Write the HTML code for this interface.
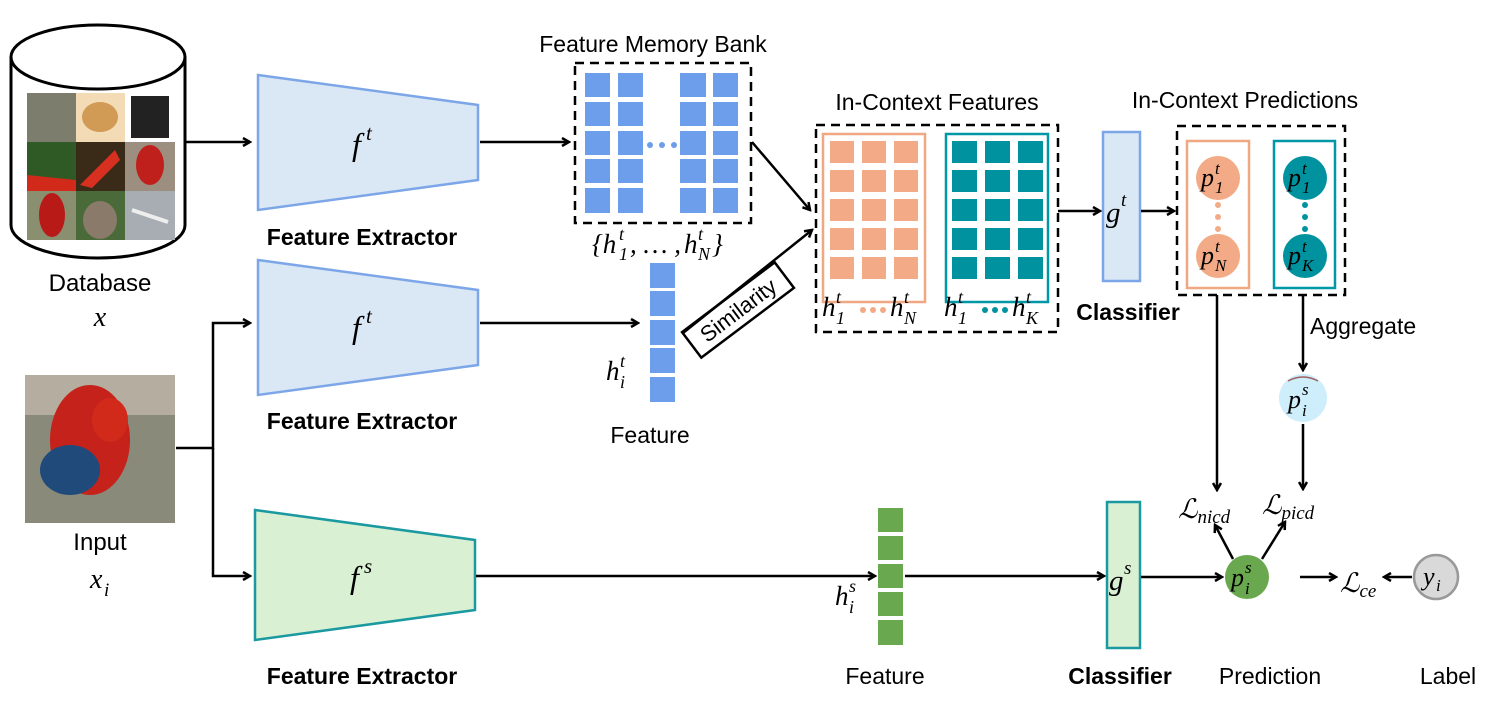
<!DOCTYPE html>
<html><head><meta charset="utf-8"><style>
html,body{margin:0;padding:0;background:#fff}
svg{display:block}
text{font-family:"Liberation Sans",sans-serif;fill:#000}
.m{font-family:"Liberation Serif","DejaVu Serif",serif;font-style:italic}
.b{font-weight:bold}
</style></head><body>
<svg width="1494" height="716" viewBox="0 0 1494 716" xmlns="http://www.w3.org/2000/svg">
<defs>
<marker id="a" markerWidth="10" markerHeight="10" refX="8" refY="5" orient="auto" markerUnits="userSpaceOnUse">
<path d="M1,1 L8,5 L1,9" fill="none" stroke="#000" stroke-width="2.5"/></marker>
</defs>
<g stroke="#000" stroke-width="3" fill="none">
<path d="M11,57 V225 A87,33 0 0 0 185,225 V57"/>
<ellipse cx="98" cy="57" rx="87" ry="32"/>
</g>
<g>
<rect x="27" y="93" width="49" height="49" fill="#7d7d6e"/>
<rect x="76" y="93" width="49" height="49" fill="#f3dcb5"/>
<ellipse cx="100" cy="117" rx="18" ry="15" fill="#d19a55"/>
<rect x="125" y="93" width="50" height="49" fill="#fff"/>
<rect x="131" y="96" width="38" height="42" fill="#222"/>
<rect x="27" y="142" width="49" height="49" fill="#2f5a25"/>
<path d="M27,175 L76,180 L76,191 L27,191Z" fill="#d12a1a"/>
<rect x="76" y="142" width="49" height="49" fill="#3a2a18"/>
<path d="M80,185 L115,150 L120,160 L92,188Z" fill="#d83020"/>
<rect x="125" y="142" width="50" height="49" fill="#9c8f80"/>
<ellipse cx="150" cy="165" rx="14" ry="20" fill="#c0201c"/>
<rect x="27" y="191" width="49" height="49" fill="#8a8f70"/>
<ellipse cx="52" cy="215" rx="13" ry="22" fill="#b81a18"/>
<rect x="76" y="191" width="49" height="49" fill="#4a6a3a"/>
<ellipse cx="100" cy="220" rx="17" ry="19" fill="#8a7a6a"/>
<rect x="125" y="191" width="50" height="49" fill="#a7adb2"/>
<path d="M132,210 L168,222" stroke="#eee" stroke-width="4"/>
</g>
<text x="100" y="291" font-size="24" text-anchor="middle">Database</text>
<text x="100" y="326" font-size="28" text-anchor="middle" class="m">x</text>

<rect x="25" y="375" width="150" height="148" fill="#8a8a7a"/>
<rect x="25" y="375" width="150" height="40" fill="#b5aea0"/>
<ellipse cx="90" cy="440" rx="40" ry="55" fill="#c4221a"/>
<ellipse cx="70" cy="470" rx="30" ry="25" fill="#1f4a7a"/>
<ellipse cx="110" cy="420" rx="18" ry="22" fill="#d12a1a"/>
<text x="100" y="550" font-size="24" text-anchor="middle">Input</text>
<text x="90" y="588" font-size="28" class="m">x</text><text x="104" y="596" font-size="19" class="m">i</text>

<path d="M258,75 L478,105 L478,180 L258,210Z" fill="#dae8f5" stroke="#7da6e8" stroke-width="2.5"/>
<path d="M258,260 L478,290 L478,365 L258,395Z" fill="#dae8f5" stroke="#7da6e8" stroke-width="2.5"/>
<path d="M255,510 L475,540 L475,610 L255,640Z" fill="#d9f0d3" stroke="#1a9aa0" stroke-width="2.5"/>
<text x="352" y="155" font-size="32" class="m">f</text><text x="366" y="140" font-size="21" class="m">t</text>
<text x="352" y="338" font-size="32" class="m">f</text><text x="366" y="323" font-size="21" class="m">t</text>
<text x="350" y="588" font-size="32" class="m">f</text><text x="364" y="573" font-size="21" class="m">s</text>
<text x="362" y="245" font-size="23" class="b" text-anchor="middle">Feature Extractor</text>
<text x="362" y="429" font-size="23" class="b" text-anchor="middle">Feature Extractor</text>
<text x="362" y="684" font-size="23" class="b" text-anchor="middle">Feature Extractor</text>

<text x="653" y="52" font-size="23" text-anchor="middle">Feature Memory Bank</text>
<rect x="575" y="63" width="176" height="160" fill="none" stroke="#000" stroke-width="2.5" stroke-dasharray="9,6"/>
<g fill="#6d9eeb">
<rect x="585" y="73" width="25" height="24"/><rect x="585" y="102" width="25" height="24"/><rect x="585" y="131" width="25" height="24"/><rect x="585" y="159" width="25" height="24"/><rect x="585" y="188" width="25" height="25"/>
<rect x="618" y="73" width="25" height="24"/><rect x="618" y="102" width="25" height="24"/><rect x="618" y="131" width="25" height="24"/><rect x="618" y="159" width="25" height="24"/><rect x="618" y="188" width="25" height="25"/>
<rect x="680" y="73" width="26" height="24"/><rect x="680" y="102" width="26" height="24"/><rect x="680" y="131" width="26" height="24"/><rect x="680" y="159" width="26" height="24"/><rect x="680" y="188" width="26" height="25"/>
<rect x="713" y="73" width="25" height="24"/><rect x="713" y="102" width="25" height="24"/><rect x="713" y="131" width="25" height="24"/><rect x="713" y="159" width="25" height="24"/><rect x="713" y="188" width="25" height="25"/>
<circle cx="650" cy="145" r="3"/><circle cx="662" cy="145" r="3"/><circle cx="674" cy="145" r="3"/>
<rect x="650" y="263" width="25" height="25"/><rect x="650" y="291" width="25" height="25"/><rect x="650" y="320" width="25" height="25"/><rect x="650" y="348" width="25" height="25"/><rect x="650" y="377" width="25" height="25"/>
</g>
<g class="m" font-size="27">
<text x="592" y="253" class="m">{h</text><text x="619" y="240" font-size="18" class="m">t</text><text x="619" y="260" font-size="18" class="m">1</text>
<text x="630" y="253" class="m">, … ,</text>
<text x="684" y="253" class="m">h</text><text x="698" y="240" font-size="18" class="m">t</text><text x="698" y="260" font-size="18" class="m">N</text>
<text x="712" y="253" class="m">}</text>
<text x="606" y="380" class="m">h</text><text x="620" y="367" font-size="18" class="m">t</text><text x="620" y="388" font-size="18" class="m">i</text>
</g>
<text x="650" y="443" font-size="23" text-anchor="middle">Feature</text>
<g transform="translate(738,310) rotate(-37)">
<rect x="-58" y="-16" width="116" height="32" fill="#fff" stroke="#000" stroke-width="2.5"/>
<text x="0" y="8" font-size="22" text-anchor="middle">Similarity</text>
</g>

<text x="937" y="110" font-size="23" text-anchor="middle">In-Context Features</text>
<rect x="816" y="125" width="242" height="207" fill="none" stroke="#000" stroke-width="2.5" stroke-dasharray="9,6"/>
<rect x="823" y="134" width="102" height="168" fill="none" stroke="#f0a882" stroke-width="2.5"/>
<rect x="946" y="134" width="102" height="168" fill="none" stroke="#0097a7" stroke-width="2.5"/>
<g fill="#f2ab86">
<rect x="830" y="141" width="24" height="22"/><rect x="862" y="141" width="24" height="22"/><rect x="894" y="141" width="24" height="22"/>
<rect x="830" y="170" width="24" height="22"/><rect x="862" y="170" width="24" height="22"/><rect x="894" y="170" width="24" height="22"/>
<rect x="830" y="199" width="24" height="22"/><rect x="862" y="199" width="24" height="22"/><rect x="894" y="199" width="24" height="22"/>
<rect x="830" y="228" width="24" height="22"/><rect x="862" y="228" width="24" height="22"/><rect x="894" y="228" width="24" height="22"/>
<rect x="830" y="257" width="24" height="22"/><rect x="862" y="257" width="24" height="22"/><rect x="894" y="257" width="24" height="22"/>
<circle cx="863" cy="310" r="3"/><circle cx="873" cy="310" r="3"/><circle cx="883" cy="310" r="3"/>
</g>
<g fill="#00939f">
<rect x="952" y="141" width="25" height="22"/><rect x="985" y="141" width="25" height="22"/><rect x="1018" y="141" width="25" height="22"/>
<rect x="952" y="170" width="25" height="22"/><rect x="985" y="170" width="25" height="22"/><rect x="1018" y="170" width="25" height="22"/>
<rect x="952" y="199" width="25" height="22"/><rect x="985" y="199" width="25" height="22"/><rect x="1018" y="199" width="25" height="22"/>
<rect x="952" y="228" width="25" height="22"/><rect x="985" y="228" width="25" height="22"/><rect x="1018" y="228" width="25" height="22"/>
<rect x="952" y="257" width="25" height="22"/><rect x="985" y="257" width="25" height="22"/><rect x="1018" y="257" width="25" height="22"/>
<circle cx="985" cy="310" r="3"/><circle cx="995" cy="310" r="3"/><circle cx="1005" cy="310" r="3"/>
</g>
<g font-size="27">
<text x="822" y="316" class="m">h</text><text x="836" y="303" font-size="18" class="m">t</text><text x="836" y="324" font-size="18" class="m">1</text>
<text x="890" y="316" class="m">h</text><text x="904" y="303" font-size="18" class="m">t</text><text x="904" y="324" font-size="18" class="m">N</text>
<text x="944" y="316" class="m">h</text><text x="958" y="303" font-size="18" class="m">t</text><text x="958" y="324" font-size="18" class="m">1</text>
<text x="1012" y="316" class="m">h</text><text x="1026" y="303" font-size="18" class="m">t</text><text x="1026" y="324" font-size="18" class="m">K</text>
</g>

<rect x="1103" y="132" width="37" height="149" fill="#dae8f5" stroke="#7da6e8" stroke-width="2.5"/>
<text x="1106" y="222" font-size="29" class="m">g</text><text x="1121" y="206" font-size="19" class="m">t</text>
<text x="1128" y="320" font-size="23" class="b" text-anchor="middle">Classifier</text>

<text x="1245" y="108" font-size="23" text-anchor="middle">In-Context Predictions</text>
<rect x="1177" y="126" width="168" height="169" fill="none" stroke="#000" stroke-width="2.5" stroke-dasharray="9,6"/>
<rect x="1187" y="141" width="62" height="147" fill="none" stroke="#f0a882" stroke-width="2.5"/>
<rect x="1274" y="141" width="61" height="147" fill="none" stroke="#0097a7" stroke-width="2.5"/>
<circle cx="1218" cy="178" r="22" fill="#f2ab86"/><circle cx="1218" cy="256" r="22" fill="#f2ab86"/>
<circle cx="1305" cy="178" r="22" fill="#00939f"/><circle cx="1305" cy="256" r="22" fill="#00939f"/>
<g fill="#f2ab86"><circle cx="1218" cy="205" r="3"/><circle cx="1218" cy="217" r="3"/><circle cx="1218" cy="229" r="3"/></g>
<g fill="#00939f"><circle cx="1305" cy="205" r="3"/><circle cx="1305" cy="217" r="3"/><circle cx="1305" cy="229" r="3"/></g>
<g font-size="26">
<text x="1201" y="186" class="m">p</text><text x="1215" y="174" font-size="17" class="m">t</text><text x="1215" y="193" font-size="17" class="m">1</text>
<text x="1201" y="264" class="m">p</text><text x="1215" y="252" font-size="17" class="m">t</text><text x="1215" y="271" font-size="17" class="m">N</text>
<text x="1288" y="186" class="m">p</text><text x="1302" y="174" font-size="17" class="m">t</text><text x="1302" y="193" font-size="17" class="m">1</text>
<text x="1288" y="264" class="m">p</text><text x="1302" y="252" font-size="17" class="m">t</text><text x="1302" y="271" font-size="17" class="m">K</text>
</g>
<text x="1310" y="334" font-size="23">Aggregate</text>
<circle cx="1303" cy="398" r="24" fill="#cdeefa"/>
<path d="M1288,381 Q1303,373 1318,381" stroke="#a06060" stroke-width="1.5" fill="none"/>
<text x="1288" y="408" font-size="26" class="m">p</text><text x="1302" y="395" font-size="17" class="m">s</text><text x="1302" y="416" font-size="17" class="m">i</text>
<text x="1178" y="518" font-size="27" class="m">ℒ<tspan font-size="19" dy="5">nicd</tspan></text>
<text x="1262" y="514" font-size="27" class="m">ℒ<tspan font-size="19" dy="5">picd</tspan></text>

<g fill="#6aa84f">
<rect x="878" y="508" width="25" height="24"/><rect x="878" y="536" width="25" height="24"/><rect x="878" y="564" width="25" height="24"/><rect x="878" y="592" width="25" height="24"/><rect x="878" y="620" width="25" height="25"/>
</g>
<text x="835" y="605" font-size="27" class="m">h</text><text x="849" y="592" font-size="18" class="m">s</text><text x="849" y="613" font-size="18" class="m">i</text>
<text x="885" y="684" font-size="23" text-anchor="middle">Feature</text>
<rect x="1107" y="502" width="33" height="146" fill="#d9f0d3" stroke="#1a9aa0" stroke-width="2.5"/>
<text x="1109" y="590" font-size="29" class="m">g</text><text x="1124" y="574" font-size="19" class="m">s</text>
<text x="1120" y="684" font-size="23" class="b" text-anchor="middle">Classifier</text>
<circle cx="1247" cy="577" r="22" fill="#6aa84f"/>
<text x="1231" y="586" font-size="26" class="m">p</text><text x="1245" y="573" font-size="17" class="m">s</text><text x="1245" y="594" font-size="17" class="m">i</text>
<text x="1270" y="684" font-size="23" text-anchor="middle">Prediction</text>
<text x="1340" y="592" font-size="27" class="m">ℒ<tspan font-size="19" dy="5">ce</tspan></text>
<circle cx="1436" cy="577" r="22" fill="#d9d9d9" stroke="#999" stroke-width="2.5"/>
<text x="1423" y="585" font-size="26" class="m">y</text><text x="1436" y="591" font-size="17" class="m">i</text>
<text x="1448" y="684" font-size="23" text-anchor="middle">Label</text>

<g stroke="#000" stroke-width="2.5" fill="none" marker-end="url(#a)">
<path d="M186,142 H250"/>
<path d="M480,142 H569"/>
<path d="M480,323 H638"/>
<path d="M752,142 L810,210"/>
<path d="M683,333 L812,230"/>
<path d="M1058,211 H1100"/>
<path d="M1141,211 H1174"/>
<path d="M1217,295 V490"/>
<path d="M1303,295 V370"/>
<path d="M1303,424 V489"/>
<path d="M176,448 H213 V323 H250" />
<path d="M213,448 V576 H250"/>
<path d="M476,576 H875"/>
<path d="M905,576 H1104"/>
<path d="M1141,577 H1222"/>
<path d="M1233,559 L1215,525"/>
<path d="M1262,559 L1285,522"/>
<path d="M1300,577 H1336"/>
<path d="M1412,577 H1384"/>
</g>
</svg>
</body></html>
